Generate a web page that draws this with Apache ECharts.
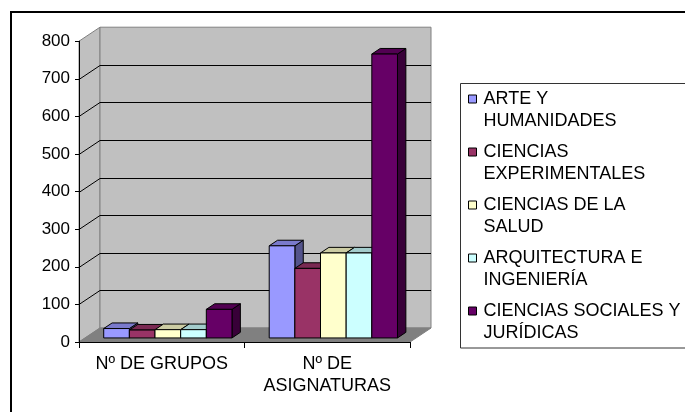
<!DOCTYPE html>
<html>
<head>
<meta charset="utf-8">
<script src="https://cdn.jsdelivr.net/npm/echarts@6/dist/echarts.min.js"></script>
<style>
html, body { margin: 0; padding: 0; background: #fff; }
#chart { width: 685px; height: 412px; }
</style>
</head>
<body>
<div id="chart"></div>
<script>
// data
const categories = ['Nº DE GRUPOS', 'Nº DE\nASIGNATURAS'];
const seriesNames = [
  'ARTE Y HUMANIDADES',
  'CIENCIAS EXPERIMENTALES',
  'CIENCIAS DE LA SALUD',
  'ARQUITECTURA E INGENIERÍA',
  'CIENCIAS SOCIALES Y JURÍDICAS'
];
const legendLabels = [
  'ARTE Y\nHUMANIDADES',
  'CIENCIAS\nEXPERIMENTALES',
  'CIENCIAS DE LA\nSALUD',
  'ARQUITECTURA E\nINGENIERÍA',
  'CIENCIAS SOCIALES Y\nJURÍDICAS'
];
const arteHumanidades = [25, 245];
const cienciasExperimentales = [21, 185];
const cienciasSalud = [22, 226];
const arquitecturaIngenieria = [22, 226];
const cienciasSociales = [76, 755];
const yTicks = [0, 100, 200, 300, 400, 500, 600, 700, 800];

const values = [arteHumanidades, cienciasExperimentales, cienciasSalud, arquitecturaIngenieria, cienciasSociales];
const colors = ['#9999ff', '#993366', '#ffffcc', '#ccffff', '#660066'];

// fake 3d depth (excel style)
const DX = 21, DY = -14;
const FRONT = 0.29, DEPTH = 0.4;
const BAR_FRAC = 0.155;

function shade(hex, f) {
  const n = parseInt(hex.slice(1), 16);
  const r = Math.round(((n >> 16) & 255) * f);
  const g = Math.round(((n >> 8) & 255) * f);
  const b = Math.round((n & 255) * f);
  return 'rgb(' + r + ',' + g + ',' + b + ')';
}

function renderWalls(params, api) {
  const cs = params.coordSys;
  const x = cs.x, y = cs.y, w = cs.width, h = cs.height;
  const children = [
    {
      type: 'polygon',
      shape: { points: [[x, y + h], [x + DX, y + h + DY], [x + DX, y + DY], [x, y]] },
      style: { fill: '#c0c0c0', stroke: '#808080', lineWidth: 1 }
    },
    {
      type: 'rect',
      shape: { x: x + DX, y: y + DY, width: w, height: h },
      style: { fill: '#c0c0c0', stroke: '#808080', lineWidth: 1 }
    },
    {
      type: 'polygon',
      shape: { points: [[x, y + h], [x + DX, y + h + DY], [x + w + DX, y + h + DY], [x + w, y + h]] },
      style: { fill: '#808080', stroke: '#808080', lineWidth: 1 }
    }
  ];
  yTicks.slice(1, -1).forEach(function (t) {
    const py = Math.round(api.coord([0, t])[1]) + 0.5;
    children.push({
      type: 'line',
      shape: { x1: x, y1: py, x2: x + DX, y2: py + DY },
      style: { stroke: '#000', lineWidth: 1 }
    });
    children.push({
      type: 'line',
      shape: { x1: x + DX, y1: py + DY, x2: x + w + DX, y2: py + DY },
      style: { stroke: '#000', lineWidth: 1 }
    });
  });
  return { type: 'group', children: children };
}

function barRenderer(k) {
  return function (params, api) {
    const band = api.size([1, 0])[0];
    const w = band * BAR_FRAC;
    const base = api.coord([api.value(0), 0]);
    const top = api.coord([api.value(0), api.value(1)]);
    const x0 = base[0] - 2.5 * w + k * w + DX * FRONT;
    const yb = base[1] + DY * FRONT;
    const yt = top[1] + DY * FRONT;
    const dx = DX * DEPTH, dy = DY * DEPTH;
    const color = colors[k];
    const edge = { stroke: '#000', lineWidth: 1, lineJoin: 'round' };
    return {
      type: 'group',
      children: [
        {
          type: 'polygon',
          shape: { points: [[x0 + w, yt], [x0 + w + dx, yt + dy], [x0 + w + dx, yb + dy], [x0 + w, yb]] },
          style: Object.assign({ fill: shade(color, 0.55) }, edge)
        },
        {
          type: 'polygon',
          shape: { points: [[x0, yt], [x0 + dx, yt + dy], [x0 + w + dx, yt + dy], [x0 + w, yt]] },
          style: Object.assign({ fill: shade(color, 0.8) }, edge)
        },
        {
          type: 'rect',
          shape: { x: x0, y: yt, width: w, height: yb - yt },
          style: Object.assign({ fill: color }, edge)
        }
      ]
    };
  };
}

const series = [{
  type: 'custom',
  name: 'walls',
  silent: true,
  z: 1,
  renderItem: renderWalls,
  data: [[0, 0]]
}];
seriesNames.forEach(function (name, k) {
  series.push({
    type: 'custom',
    name: name,
    z: 2,
    itemStyle: { color: colors[k] },
    renderItem: barRenderer(k),
    data: categories.map(function (c, i) { return [i, values[k][i]]; })
  });
});

const option = {
  animation: false,
  backgroundColor: '#fff',
  textStyle: { fontFamily: 'Liberation Sans, Arial, sans-serif', color: '#000' },
  grid: { left: 79, right: 275, top: 41.2, bottom: 70 },
  xAxis: {
    type: 'category',
    data: categories,
    z: 3,
    axisLine: { lineStyle: { color: '#000', width: 1 } },
    axisTick: { show: true, length: 6, lineStyle: { color: '#000' } },
    axisLabel: { interval: 0, fontSize: 18, lineHeight: 22, margin: 11, color: '#000' },
    splitLine: { show: false }
  },
  yAxis: {
    type: 'value',
    min: 0,
    max: 800,
    interval: 100,
    z: 3,
    axisLine: { show: true, lineStyle: { color: '#000', width: 1 } },
    axisTick: { show: true, length: 4, lineStyle: { color: '#000' } },
    axisLabel: { fontSize: 17, margin: 9, color: '#000' },
    splitLine: { show: false }
  },
  legend: {
    data: seriesNames,
    orient: 'vertical',
    left: 468,
    top: 66,
    padding: 0,
    itemGap: -13,
    itemWidth: 8,
    itemHeight: 8,
    icon: 'rect',
    selectedMode: false,
    itemStyle: { borderColor: '#000', borderWidth: 1 },
    // empty first line so the marker sits level with the first text line
    formatter: function (name) { return '\n' + legendLabels[seriesNames.indexOf(name)]; },
    textStyle: { fontSize: 18, lineHeight: 22, color: '#000', padding: [0, 0, 0, 2] }
  },
  graphic: [
    {
      type: 'rect',
      silent: true,
      shape: { x: 11, y: 12, width: 720, height: 450 },
      style: { fill: 'none', stroke: '#000', lineWidth: 2 }
    },
    {
      type: 'rect',
      silent: true,
      shape: { x: 460.5, y: 83.5, width: 260, height: 264.5 },
      style: { fill: 'none', stroke: '#333', lineWidth: 1 }
    }
  ],
  series: series
};

const chart = echarts.init(document.getElementById('chart'));
chart.setOption(option);
</script>
</body>
</html>
